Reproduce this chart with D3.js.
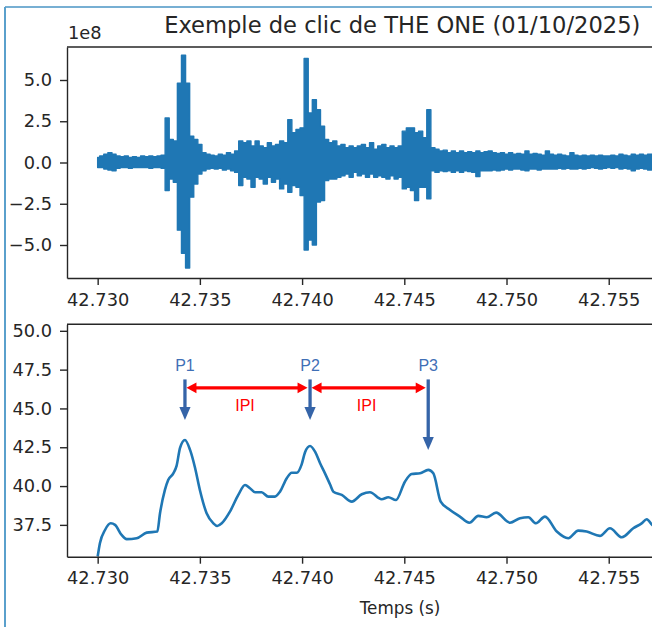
<!DOCTYPE html>
<html>
<head>
<meta charset="utf-8">
<script src="https://cdn.jsdelivr.net/npm/d3@7"></script>
<style>
  body { margin: 0; background: #fff; }
  svg { display: block; }
</style>
</head>
<body>
<svg id="chart" width="652" height="627"></svg>
<script>
// ---- Raw waveform (amplitude, x1e8): per-sample envelope, one sample every 0.2 ms ----
const waveStart = 42.730;
const waveStep = 0.0002;
const waveMax = [
  0.3, 0.4, 0.5, 0.6, 0.5, 0.4, 0.35, 0.4, 0.3, 0.35,
  0.3, 0.4, 0.35, 0.4, 0.35, 0.4, 0.45, 2.7, 1.4, 1.3,
  4.8, 6.5, 4.8, 1.6, 1.4, 1.1, 0.6, 0.5, 0.45, 0.4,
  0.5, 0.45, 0.6, 0.5, 0.7, 1.3, 1.2, 1.3, 1.0, 1.3,
  1.0, 0.9, 1.2, 1.0, 1.1, 1.3, 1.2, 2.6, 1.8, 2.0,
  2.1, 6.3, 3.0, 3.8, 3.2, 2.2, 1.4, 1.2, 1.3, 1.0,
  1.1, 0.9, 1.0, 0.9, 1.0, 1.1, 0.9, 1.2, 0.8, 1.0,
  1.1, 0.9, 1.0, 0.9, 1.0, 1.9, 2.1, 2.1, 1.8, 1.9,
  1.5, 3.2, 0.9, 0.8, 0.7, 0.75, 0.6, 0.7, 0.6, 0.7,
  0.6, 0.65, 0.6, 0.7, 0.6, 0.65, 0.7, 0.6, 0.55, 0.6,
  0.5, 0.6, 0.5, 0.55, 0.5, 0.7, 0.5, 0.55, 0.5, 0.45,
  0.7, 0.5, 0.45, 0.5, 0.45, 0.4, 0.6, 0.45, 0.4, 0.45,
  0.4, 0.45, 0.4, 0.45, 0.4, 0.4, 0.45, 0.4, 0.5, 0.45,
  0.4, 0.5, 0.45, 0.5, 0.45, 0.5, 0.45
];
const waveMin = [
  -0.3, -0.3, -0.4, -0.45, -0.5, -0.35, -0.3, -0.3, -0.35, -0.3,
  -0.3, -0.3, -0.3, -0.35, -0.3, -0.3, -0.35, -1.7, -1.0, -1.2,
  -4.1, -5.5, -6.4, -2.1, -1.3, -0.7, -0.5, -0.4, -0.35, -0.4,
  -0.35, -0.45, -0.4, -0.5, -0.6, -1.4, -0.9, -1.0, -1.5, -0.9,
  -1.0, -1.3, -0.9, -1.2, -1.0, -1.6, -1.3, -1.8, -1.4, -1.5,
  -2.0, -5.3, -4.7, -5.0, -2.4, -2.3, -1.1, -1.0, -1.0, -0.9,
  -0.8, -0.7, -0.9, -0.6, -0.8, -0.7, -0.9, -0.7, -0.9, -0.8,
  -0.9, -1.0, -0.8, -1.0, -0.9, -1.6, -1.5, -1.7, -2.3, -1.5,
  -1.5, -2.2, -0.5, -0.6, -0.5, -0.55, -0.5, -0.6, -0.5, -0.6,
  -0.5, -0.55, -0.6, -0.85, -0.5, -0.5, -0.5, -0.45, -0.5, -0.45,
  -0.4, -0.45, -0.4, -0.4, -0.45, -0.5, -0.4, -0.4, -0.45, -0.4,
  -0.4, -0.4, -0.4, -0.35, -0.4, -0.35, -0.4, -0.4, -0.35, -0.4,
  -0.35, -0.3, -0.35, -0.4, -0.35, -0.3, -0.35, -0.3, -0.4, -0.35,
  -0.4, -0.5, -0.4, -0.35, -0.4, -0.45, -0.4
];

// ---- Smoothed energy envelope ----
const envTime = [
  42.73000, 42.73011, 42.73036, 42.73064, 42.73085, 42.73117, 42.73142, 42.73191, 42.73240, 42.73292,
  42.73305, 42.73329, 42.73345, 42.73370, 42.73386, 42.73403, 42.73427, 42.73452, 42.73476, 42.73500,
  42.73533, 42.73566, 42.73585, 42.73607, 42.73647, 42.73688, 42.73721, 42.73745, 42.73770, 42.73802,
  42.73835, 42.73867, 42.73892, 42.73925, 42.73949, 42.73974, 42.73998, 42.74015, 42.74039, 42.74064,
  42.74088, 42.74112, 42.74137, 42.74153, 42.74194, 42.74243, 42.74292, 42.74332, 42.74389, 42.74422,
  42.74459, 42.74503, 42.74536, 42.74577, 42.74617, 42.74642, 42.74678, 42.74724, 42.74772, 42.74818,
  42.74862, 42.74903, 42.74949, 42.75017, 42.75066, 42.75107, 42.75144, 42.75188, 42.75246, 42.75302,
  42.75351, 42.75392, 42.75457, 42.75506, 42.75564, 42.75620, 42.75661, 42.75686, 42.75712, 42.75760
];
const envValue = [
  35.46, 36.32, 37.17, 37.60, 37.50, 36.85, 36.58, 36.64, 37.00, 37.07,
  38.25, 39.75, 40.39, 40.82, 41.30, 42.46, 42.97, 42.33, 41.20, 39.75,
  38.25, 37.60, 37.43, 37.60, 38.35, 39.43, 40.07, 39.86, 39.60, 39.60,
  39.32, 39.32, 39.64, 40.50, 40.86, 40.86, 41.40, 42.20, 42.58, 42.20,
  41.47, 40.82, 40.10, 39.64, 39.43, 39.00, 39.47, 39.60, 39.15, 39.28,
  39.10, 40.28, 40.78, 40.82, 41.04, 40.82, 39.00, 38.46, 38.03, 37.64,
  38.08, 37.99, 38.29, 37.64, 37.93, 37.99, 37.60, 38.03, 37.07, 36.64,
  37.13, 37.07, 36.79, 37.28, 36.70, 37.28, 37.60, 37.86, 37.50, 37.20
];

// ---- Ticks ----
const timeTicks = [42.730, 42.735, 42.740, 42.745, 42.750, 42.755];
const ampTicks = [-5.0, -2.5, 0.0, 2.5, 5.0];
const envTicks = [37.5, 40.0, 42.5, 45.0, 47.5, 50.0];

// ---- Pulse annotations ----
const pulseLabels = ["P1", "P2", "P3"];
const pulseTimes = [42.73427, 42.74039, 42.74617];
const pulseTipLevels = [44.25, 44.25, 42.32];
const intervalLabel = "IPI";

const titleText = "Exemple de clic de THE ONE (01/10/2025)";
const xLabelText = "Temps (s)";
const offsetText = "1e8";

// ---- Layout ----
const W = 652, H = 627;
const axLeft = 67, axRight = 741.6;
const top1 = 47, bot1 = 278;
const top2 = 324.3, bot2 = 556.7;
const ink = "#262626";
const waveBlue = "#1f77b4";
const tickFont = "'DejaVu Sans', sans-serif";

const svg = d3.select("#chart");
svg.append("rect").attr("width", W).attr("height", H).attr("fill", "#fff");

// outer frame
svg.append("line").attr("x1", 5).attr("y1", 7).attr("x2", W).attr("y2", 7)
  .attr("stroke", "#4a94c4").attr("stroke-width", 1.6);
svg.append("line").attr("x1", 5).attr("y1", 7).attr("x2", 5).attr("y2", H)
  .attr("stroke", "#5aa0cc").attr("stroke-width", 2);

// shared time scale (5% margins around the data span)
const tFirst = waveStart, tLast = 42.760;
const tPad = (tLast - tFirst) * 0.05;
const x = d3.scaleLinear().domain([tFirst - tPad, tLast + tPad]).range([axLeft, axRight]);

const yAmp = d3.scaleLinear().domain([-7.0, 7.0]).range([bot1, top1]);
const yEnv = d3.scaleLinear().domain([35.45, 50.42]).range([bot2, top2]);

const defs = svg.append("defs");
defs.append("clipPath").attr("id", "clip1").append("rect")
  .attr("x", axLeft).attr("y", top1).attr("width", axRight - axLeft).attr("height", bot1 - top1);
defs.append("clipPath").attr("id", "clip2").append("rect")
  .attr("x", axLeft).attr("y", top2).attr("width", axRight - axLeft).attr("height", bot2 - top2);

const fmtTime = d3.format(".3f");
const fmtVal = v => d3.format(".1f")(v).replace("-", "\u2212");

function styleAxis(g) {
  g.selectAll("path.domain").attr("stroke", ink).attr("stroke-width", 1.4);
  g.selectAll(".tick line").attr("stroke", ink).attr("stroke-width", 1.4);
  g.selectAll(".tick text").attr("fill", ink)
    .style("font-family", tickFont).style("font-size", "17.8px");
}

function drawFrame(top, bot, yScale, yTicks) {
  const gx = svg.append("g").attr("transform", `translate(0,${bot})`)
    .call(d3.axisBottom(x).tickValues(timeTicks).tickFormat(fmtTime)
      .tickSize(7).tickSizeOuter(0).tickPadding(8));
  styleAxis(gx);
  const gy = svg.append("g").attr("transform", `translate(${axLeft},0)`)
    .call(d3.axisLeft(yScale).tickValues(yTicks).tickFormat(fmtVal)
      .tickSize(7).tickSizeOuter(0).tickPadding(8));
  styleAxis(gy);
  svg.append("line").attr("x1", axLeft).attr("x2", axRight).attr("y1", top).attr("y2", top)
    .attr("stroke", ink).attr("stroke-width", 1.4);
}

// ---- Top panel: raw waveform ----
const wave = waveMax.map((hi, i) => ({ t: waveStart + i * waveStep, hi, lo: waveMin[i] }));
const g1 = svg.append("g").attr("clip-path", "url(#clip1)");
g1.append("path").datum(wave)
  .attr("fill", waveBlue)
  .attr("stroke", waveBlue).attr("stroke-width", 1.4).attr("stroke-linejoin", "round")
  .attr("d", d3.area().x(d => x(d.t)).y0(d => yAmp(d.lo)).y1(d => yAmp(d.hi)).curve(d3.curveStep));

drawFrame(top1, bot1, yAmp, ampTicks);

svg.append("text").attr("x", axLeft + 1).attr("y", 39)
  .attr("fill", ink).style("font-family", tickFont).style("font-size", "17.8px")
  .text(offsetText);
svg.append("text").attr("x", (axLeft + axRight) / 2 - 2).attr("y", 33)
  .attr("text-anchor", "middle").attr("fill", ink)
  .style("font-family", tickFont).style("font-size", "22.6px")
  .text(titleText);

// ---- Bottom panel: envelope ----
const env = envTime.map((t, i) => ({ t, v: envValue[i] }));
const g2 = svg.append("g").attr("clip-path", "url(#clip2)");
g2.append("path").datum(env)
  .attr("fill", "none").attr("stroke", waveBlue).attr("stroke-width", 2.6)
  .attr("stroke-linejoin", "round")
  .attr("d", d3.line().x(d => x(d.t)).y(d => yEnv(d.v)).curve(d3.curveMonotoneX));

drawFrame(top2, bot2, yEnv, envTicks);

svg.append("text").attr("x", 400).attr("y", 614)
  .attr("text-anchor", "middle").attr("fill", ink)
  .style("font-family", tickFont).style("font-size", "16.8px")
  .text(xLabelText);

// ---- Pulse markers ----
const markBlue = "#3564a8";
const labelBlue = "#3f6fb6";
const annFont = "'Liberation Sans', Arial, sans-serif";
const shaftTop = yEnv(46.87);
const ann = svg.append("g");
pulseTimes.forEach((t, i) => {
  const px = x(t);
  const tip = yEnv(pulseTipLevels[i]);
  ann.append("line").attr("x1", px).attr("x2", px).attr("y1", shaftTop).attr("y2", tip - 12)
    .attr("stroke", markBlue).attr("stroke-width", 3.3);
  ann.append("path")
    .attr("d", `M${px - 5.6},${tip - 13}L${px + 5.6},${tip - 13}L${px},${tip}Z`)
    .attr("fill", markBlue);
  ann.append("text").attr("x", px).attr("y", yEnv(47.43))
    .attr("text-anchor", "middle").attr("fill", labelBlue)
    .style("font-family", annFont).style("font-size", "16px")
    .text(pulseLabels[i]);
});

// inter-pulse intervals
const ipiY = yEnv(46.33);
for (let i = 0; i < pulseTimes.length - 1; i++) {
  const x1 = x(pulseTimes[i]) + 1.5;
  const x2 = x(pulseTimes[i + 1]) - 2.5;
  const hl = 10, hw = 5.4;
  ann.append("line").attr("x1", x1 + hl - 1).attr("x2", x2 - hl + 1).attr("y1", ipiY).attr("y2", ipiY)
    .attr("stroke", "#ff0000").attr("stroke-width", 3.3);
  ann.append("path")
    .attr("d", `M${x1},${ipiY}L${x1 + hl},${ipiY - hw}L${x1 + hl},${ipiY + hw}Z` +
               `M${x2},${ipiY}L${x2 - hl},${ipiY - hw}L${x2 - hl},${ipiY + hw}Z`)
    .attr("fill", "#ff0000");
  ann.append("text").attr("x", (x1 + x2) / 2 - 2).attr("y", yEnv(44.82))
    .attr("text-anchor", "middle").attr("fill", "#ff0000")
    .style("font-family", annFont).style("font-size", "16px")
    .text(intervalLabel);
}
</script>
</body>
</html>
